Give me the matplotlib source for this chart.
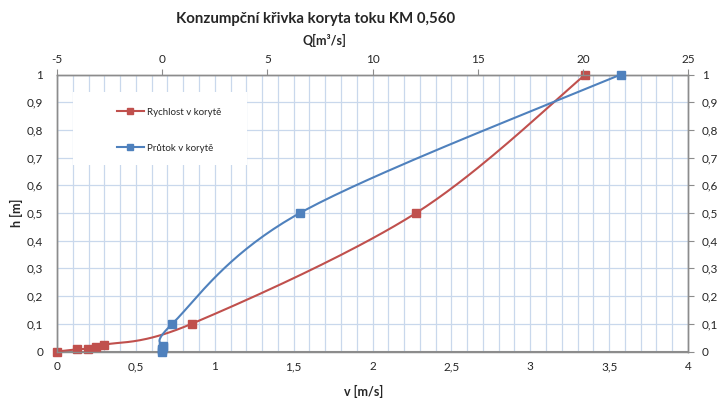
import numpy as np
import matplotlib
matplotlib.use("Agg")
import matplotlib.pyplot as plt
from matplotlib.ticker import MultipleLocator, FuncFormatter
from matplotlib.patches import Rectangle

plt.rcParams['font.family'] = ['Lato', 'DejaVu Sans']

# Rychlost v korytě: velocity v [m/s] vs. depth h [m]
v_rychlost = [0.0, 0.125, 0.194, 0.25, 0.30, 0.854, 2.276, 3.35]
h_rychlost = [0.0, 0.008, 0.010, 0.017, 0.024, 0.1, 0.5, 1.0]

# Průtok v korytě: discharge Q [m3/s] vs. depth h [m]
q_prutok = [0.0, 0.005, 0.01, 0.02, 0.03, 0.48, 6.55, 21.8]
h_prutok = [0.0, 0.005, 0.01, 0.015, 0.02, 0.1, 0.5, 1.0]

title = "Konzumpční křivka koryta toku KM 0,560"
label_v = "v [m/s]"
label_q = "Q[m³/s]"
label_h = "h [m]"
legend_labels = ["Rychlost v korytě", "Průtok v korytě"]

RED = "#C0504D"
BLUE = "#4F81BD"
GRID = "#C9D8EC"
SPINE = "#8C8C8C"
TXT = "#262626"

W, H = 720, 399
fig = plt.figure(figsize=(W / 100, H / 100), dpi=100)
x0, x1, ytop, ybot = 57, 688, 74.5, 351.5
ax = fig.add_axes([x0 / W, 1 - ybot / H, (x1 - x0) / W, (ybot - ytop) / H])
ax2 = ax.twiny()

ax.set_xlim(0, 4)
ax.set_ylim(0, 1)
ax2.set_xlim(-5, 25)

comma = FuncFormatter(lambda val, pos: f"{val:g}".replace(".", ","))


def smooth(xs, ys, sx, sy, n=40):
    """Bezier smoothing of a polyline (cardinal spline), computed in pixel space."""
    p = np.column_stack([np.asarray(xs, float) * sx, np.asarray(ys, float) * sy])
    out = [p[0]]
    t = np.linspace(0, 1, n)[1:, None]
    for i in range(len(p) - 1):
        pm = p[i - 1] if i > 0 else p[i]
        pp = p[i + 2] if i + 2 < len(p) else p[i + 1]
        c1 = p[i] + (p[i + 1] - pm) / 6
        c2 = p[i + 1] - (pp - p[i]) / 6
        seg = ((1 - t) ** 3) * p[i] + 3 * ((1 - t) ** 2) * t * c1 \
            + 3 * (1 - t) * t ** 2 * c2 + t ** 3 * p[i + 1]
        out.extend(seg)
    out = np.array(out)
    return out[:, 0] / sx, out[:, 1] / sy


px_w, px_h = x1 - x0, ybot - ytop
sxv, sy = px_w / 4.0, px_h / 1.0
sxq = px_w / 30.0

rx, ry = smooth(v_rychlost, h_rychlost, sxv, sy)
ax.plot(rx, ry, color=RED, lw=1.5, zorder=3, clip_on=False)
ax.plot(v_rychlost, h_rychlost, ls="none", marker="s", ms=5.5,
        color=RED, zorder=4, clip_on=False)

bx, by = smooth(q_prutok, h_prutok, sxq, sy)
ax2.plot(bx, by, color=BLUE, lw=1.5, zorder=3, clip_on=False)
ax2.plot(q_prutok, h_prutok, ls="none", marker="s", ms=5.5,
         color=BLUE, zorder=4, clip_on=False)

# grid
ax.xaxis.set_minor_locator(MultipleLocator(0.1))
ax.xaxis.set_major_locator(MultipleLocator(0.5))
ax.yaxis.set_major_locator(MultipleLocator(0.1))
ax.grid(True, which="both", axis="x", color=GRID, lw=0.9)
ax.grid(True, which="major", axis="y", color=GRID, lw=0.9)
ax.set_axisbelow(True)

ax.xaxis.set_major_formatter(comma)
ax.yaxis.set_major_formatter(comma)
ax2.xaxis.set_major_locator(MultipleLocator(5))
ax2.xaxis.set_major_formatter(comma)

ax.tick_params(axis="x", which="both", length=0, labelsize=8.5,
               labelcolor=TXT, pad=7)
ax.tick_params(axis="y", which="major", left=False, right=True, length=4,
               direction="out", color=SPINE, labelleft=True, labelright=True,
               labelsize=8.5, labelcolor=TXT, pad=6)
ax2.tick_params(axis="x", which="major", length=4, direction="out",
                color=SPINE, labelsize=8.5, labelcolor=TXT, pad=3)

for a in (ax, ax2):
    for s in a.spines.values():
        s.set_color(SPINE)
        s.set_linewidth(1.0)
ax.spines["bottom"].set_linewidth(1.5)

# white legend panel
ax2.add_patch(Rectangle((73 / W, 1 - 165 / H), 174 / W, 73 / H,
                        transform=fig.transFigure, facecolor="white",
                        edgecolor="none", zorder=2))
handles = [
    plt.Line2D([], [], color=RED, lw=1.5, marker="s", ms=4),
    plt.Line2D([], [], color=BLUE, lw=1.5, marker="s", ms=4),
]
fig.legend(handles, legend_labels, loc="upper left",
           bbox_to_anchor=(112 / W, 1 - 103 / H), frameon=False,
           fontsize=7, handlelength=2.8, handletextpad=0.3,
           labelspacing=2.75, borderpad=0, labelcolor=TXT)

fig.text(316 / W, 1 - 19 / H, title, ha="center", va="center",
         fontsize=10.8, fontweight="bold", color=TXT)
fig.text(324 / W, 1 - 40 / H, label_q, ha="center", va="center",
         fontsize=9, fontweight="bold", color=TXT)
fig.text(364 / W, 1 - 391 / H, label_v, ha="center", va="center",
         fontsize=9, fontweight="bold", color=TXT)
fig.text(16 / W, 1 - 213 / H, label_h, ha="center", va="center",
         fontsize=9, fontweight="bold", color=TXT, rotation=90)

fig.savefig("out.png", dpi=100, facecolor="white")
